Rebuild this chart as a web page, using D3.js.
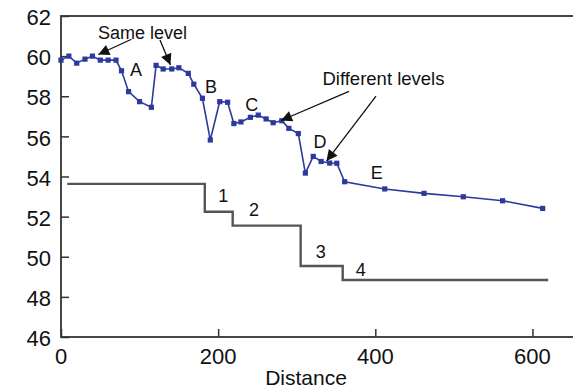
<!DOCTYPE html>
<html><head><meta charset="utf-8">
<script src="https://cdn.jsdelivr.net/npm/d3@7/dist/d3.min.js"></script>
<style>
html,body{margin:0;padding:0;background:#fff;}
svg{display:block;font-family:"Liberation Sans",Arial,Helvetica,sans-serif;}
</style></head>
<body><svg id="c" width="573" height="391"></svg>
<script>
// ---- data ----
const distance = [0,10,20,30.5,40,50,60,70,77,86,100,115,121,130,141,150,162,169,180,190,202,212,220,229,241,251,261,270,281,290,302,311,321,331,342,351,361,412,462,512,562,613];
const elevation = [59.8,60.0,59.65,59.85,60.0,59.8,59.8,59.8,59.27,58.23,57.73,57.45,59.54,59.36,59.36,59.42,59.14,58.6,57.9,55.82,57.73,57.7,56.64,56.72,56.95,57.06,56.87,56.68,56.78,56.4,56.14,54.17,55.0,54.75,54.67,54.66,53.74,53.38,53.16,52.99,52.79,52.41];
const stepDistance = [8,183,218.5,305,358.5,620];
const stepLevel = [53.63,52.24,51.55,49.54,48.84,48.84];
const xTicks = [0,200,400,600];
const yTicks = [46,48,50,52,54,56,58,60,62];
const xLabel = "Distance";
const labelText = ["A","B","C","D","E","1","2","3","4","Same level","Different levels"];
const labelX = [95.4,190.9,242.7,329.6,401.8,206.5,245.6,330.5,381.4,103.7,410.4];
const labelY = [59.34,58.48,57.59,55.73,54.19,53.03,52.33,50.25,49.34,61.15,58.88];
const arrowFromX = [89.7,126,366.5,400.9];
const arrowFromY = [60.84,60.8,58.24,58.01];
const arrowToX = [47.5,139.3,280,337.9];
const arrowToY = [60.08,59.56,56.79,54.77];

// ---- layout ----
const svg = d3.select("#c");
const x = d3.scaleLinear().domain([0,660]).range([61,579.6]);
const y = d3.scaleLinear().domain([46,62]).range([337,16]);
const axisCol = "#333";
const blue = "#2b3a9c";

// frame
svg.append("rect").attr("x",x(0)).attr("y",y(62)).attr("width",x(660)-x(0)).attr("height",y(46)-y(62))
  .attr("fill","none").attr("stroke",axisCol).attr("stroke-width",1.8);

// y axis (inward ticks)
const yAxis = svg.append("g").attr("transform",`translate(${x(0)},0)`)
  .call(d3.axisRight(y).tickValues(yTicks).tickSize(8).tickFormat(""));
yAxis.select(".domain").remove();
yAxis.selectAll("line").attr("stroke",axisCol).attr("stroke-width",1.5);
svg.append("g").selectAll("text").data(yTicks).join("text")
  .attr("x",51).attr("y",d=>y(d)+1.5).attr("dy","0.35em").attr("text-anchor","end")
  .attr("font-size",22).attr("fill","#111").text(d=>d);

// x axis (inward ticks)
const xAxis = svg.append("g").attr("transform",`translate(0,${y(46)})`)
  .call(d3.axisTop(x).tickValues(xTicks).tickSize(8).tickFormat(""));
xAxis.select(".domain").remove();
xAxis.selectAll("line").attr("stroke",axisCol).attr("stroke-width",1.5);
svg.append("g").selectAll("text").data(xTicks).join("text")
  .attr("x",d=>x(d)).attr("y",364).attr("text-anchor","middle")
  .attr("font-size",22).attr("fill","#111").text(d=>d);
svg.append("text").attr("x",306).attr("y",385).attr("text-anchor","middle")
  .attr("font-size",21).attr("fill","#111").text(xLabel);

// step line
const stepPts = stepDistance.map((d,i)=>[d,stepLevel[i]]);
svg.append("path").datum(stepPts)
  .attr("d",d3.line().x(d=>x(d[0])).y(d=>y(d[1])).curve(d3.curveStepAfter))
  .attr("fill","none").attr("stroke","#555").attr("stroke-width",2.4);

// profile line
const pts = distance.map((d,i)=>[d,elevation[i]]);
svg.append("path").datum(pts)
  .attr("d",d3.line().x(d=>x(d[0])).y(d=>y(d[1])))
  .attr("fill","none").attr("stroke",blue).attr("stroke-width",1.6);
svg.append("g").selectAll("rect").data(pts).join("rect")
  .attr("x",d=>x(d[0])-2.6).attr("y",d=>y(d[1])-2.6).attr("width",5.2).attr("height",5.2)
  .attr("fill",blue);

// arrows
const defs = svg.append("defs");
defs.append("marker").attr("id","ah").attr("viewBox","0 0 10 10").attr("refX",10).attr("refY",5)
  .attr("markerWidth",16).attr("markerHeight",11).attr("markerUnits","userSpaceOnUse").attr("orient","auto")
  .append("path").attr("d","M0,0 L10,5 L0,10 Z").attr("fill","#111");
svg.append("g").selectAll("line").data(arrowFromX).join("line")
  .attr("x1",(d,i)=>x(arrowFromX[i])).attr("y1",(d,i)=>y(arrowFromY[i]))
  .attr("x2",(d,i)=>x(arrowToX[i])).attr("y2",(d,i)=>y(arrowToY[i]))
  .attr("stroke","#111").attr("stroke-width",1.3).attr("marker-end","url(#ah)");

// labels
svg.append("g").selectAll("text").data(labelText).join("text")
  .attr("x",(d,i)=>x(labelX[i])).attr("y",(d,i)=>y(labelY[i])).attr("dy","0.35em")
  .attr("text-anchor","middle").attr("font-size",(d,i)=>i===10?18.5:18).attr("fill","#111").text(d=>d);
</script></body></html>
